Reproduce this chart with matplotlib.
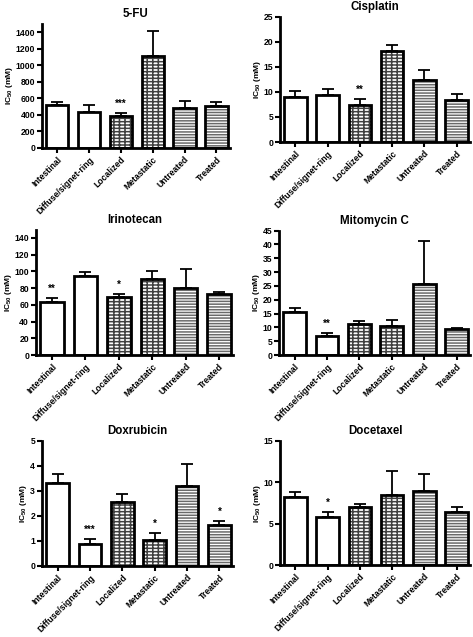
import numpy as np
import matplotlib
matplotlib.use("Agg")
import matplotlib.pyplot as plt

plt.rcParams['font.family'] = ['Liberation Sans', 'DejaVu Sans']
plt.rcParams['font.weight'] = 'bold'
plt.rcParams['mathtext.fontset'] = 'custom'
plt.rcParams['mathtext.rm'] = 'Liberation Sans:bold'
plt.rcParams['mathtext.bf'] = 'Liberation Sans:bold'
plt.rcParams['hatch.linewidth'] = 1.1

# Данные (IC50, среднее и ошибка вверх)
groups = ["Intestinal", "Diffuse/signet-ring", "Localized", "Metastatic", "Untreated", "Treated"]

fu_mean = [515, 430, 388, 1112, 478, 512]
fu_err = [40, 88, 30, 305, 93, 38]
fu_sig = ["", "", "***", "", "", ""]

cis_mean = [9.0, 9.3, 7.3, 18.2, 12.3, 8.3]
cis_err = [1.2, 1.2, 1.2, 1.1, 2.0, 1.2]
cis_sig = ["", "", "**", "", "", ""]

iri_mean = [63, 94, 69, 91, 80, 73]
iri_err = [5, 5, 4, 9, 23, 2.5]
iri_sig = ["**", "", "*", "", "", ""]

mito_mean = [15.4, 6.9, 11.2, 10.5, 25.7, 9.3]
mito_err = [1.7, 0.9, 1.1, 2.2, 15.7, 0.4]
mito_sig = ["", "**", "", "", "", ""]

dox_mean = [3.32, 0.88, 2.57, 1.05, 3.19, 1.64]
dox_err = [0.35, 0.20, 0.29, 0.25, 0.88, 0.17]
dox_sig = ["", "***", "", "*", "", "*"]

doc_mean = [8.2, 5.83, 6.96, 8.44, 8.97, 6.43]
doc_err = [0.65, 0.6, 0.36, 2.94, 2.01, 0.53]
doc_sig = ["", "*", "", "", "", ""]

# Стиль столбцов
hatch_col = ["white", "white", "#404040", "#404040", "#6a6a6a", "#6a6a6a"]
hatches = [None, None, "-----|||", "-----|||", "------", "------"]

panels = [
    ("5-FU", fu_mean, fu_err, fu_sig, 1500, np.arange(0, 1401, 200), [0.0888, 0.7677, 0.397, 0.195]),
    ("Cisplatin", cis_mean, cis_err, cis_sig, 25, np.arange(0, 26, 5), [0.592, 0.777, 0.402, 0.197]),
    ("Irinotecan", iri_mean, iri_err, iri_sig, 150, np.arange(0, 141, 20), [0.076, 0.4427, 0.417, 0.197]),
    ("Mitomycin C", mito_mean, mito_err, mito_sig, 45, np.arange(0, 46, 5), [0.590, 0.4427, 0.404, 0.1953]),
    ("Doxrubicin", dox_mean, dox_err, dox_sig, 5, np.arange(0, 6, 1), [0.0888, 0.1115, 0.404, 0.1962]),
    ("Docetaxel", doc_mean, doc_err, doc_sig, 15, np.arange(0, 16, 5), [0.592, 0.113, 0.402, 0.1947]),
]

fig = plt.figure(figsize=(4.73, 6.37), dpi=100)
x = np.arange(len(groups))
w = 0.7

for title, mean, err, sig, ymax, yt, rect in panels:
    ax = fig.add_axes(rect)
    # заливка со штриховкой
    for i in range(len(groups)):
        ax.bar(x[i], mean[i], w, color="white", edgecolor=hatch_col[i],
               hatch=hatches[i], linewidth=0, zorder=2)
    # контур
    ax.bar(x, mean, w, fill=False, edgecolor="black", linewidth=2, zorder=3)
    ax.errorbar(x, mean, yerr=[np.zeros(len(err)), err], fmt="none", ecolor="black",
                elinewidth=1.3, capsize=4.3, capthick=1.3, zorder=1)
    for i, s in enumerate(sig):
        if s:
            ax.annotate(s, (x[i], mean[i] + err[i]), xytext=(0, 3), textcoords="offset points",
                        ha="center", va="bottom", fontsize=7, fontweight="bold")
    ax.set_xlim(-0.48, 5.42)
    ax.set_ylim(0, ymax)
    ax.set_yticks(yt)
    ax.set_xticks(x)
    ax.set_xticklabels(groups, rotation=45, ha="right", rotation_mode="anchor")
    ax.tick_params(axis="both", direction="out", width=1.5, length=3.5, labelsize=6.2, pad=1.5)
    for lab in ax.get_xticklabels() + ax.get_yticklabels():
        lab.set_fontweight("bold")
    ax.spines["top"].set_visible(False)
    ax.spines["right"].set_visible(False)
    ax.spines["left"].set_linewidth(2)
    ax.spines["bottom"].set_linewidth(2)
    ax.set_title(title, fontsize=8.3, fontweight="bold", pad=5)
    ax.set_ylabel(r"IC$_{50}$ (mM)", fontsize=6.0, fontweight="bold", labelpad=0.5)

fig.savefig("out.png", dpi=100)
